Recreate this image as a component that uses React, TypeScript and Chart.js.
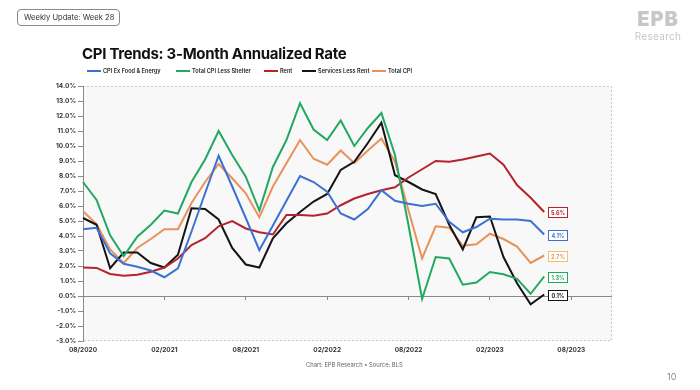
import React, { useEffect, useRef } from 'react';
import { Chart, registerables } from 'chart.js';

Chart.register(...registerables);

const monthLabels = [
  '08/2020', '09/2020', '10/2020', '11/2020', '12/2020', '01/2021', '02/2021', '03/2021',
  '04/2021', '05/2021', '06/2021', '07/2021', '08/2021', '09/2021', '10/2021', '11/2021',
  '12/2021', '01/2022', '02/2022', '03/2022', '04/2022', '05/2022', '06/2022', '07/2022',
  '08/2022', '09/2022', '10/2022', '11/2022', '12/2022', '01/2023', '02/2023', '03/2023',
  '04/2023', '05/2023', '06/2023', '07/2023', '08/2023', '09/2023', '10/2023', '11/2023',
];

const coreCpi = [4.45, 4.55, 2.85, 2.15, 1.95, 1.7, 1.25, 1.85, 4.3, 6.85, 9.35, 7.3, 5.2, 3.05, 4.7, 6.35, 8.0, 7.6, 6.95, 5.5, 5.1, 5.8, 7.05, 6.35, 6.15, 6.0, 6.15, 4.95, 4.25, 4.6, 5.15, 5.1, 5.1, 5.0, 4.1];
const cpiLessShelter = [7.6, 6.4, 4.05, 2.65, 3.95, 4.75, 5.7, 5.5, 7.6, 9.1, 11.0, 9.4, 7.95, 5.7, 8.6, 10.4, 12.85, 11.1, 10.4, 11.7, 10.0, 11.2, 12.2, 9.4, 4.7, -0.2, 2.6, 2.5, 0.75, 0.9, 1.6, 1.45, 1.15, 0.15, 1.3];
const rent = [1.9, 1.87, 1.47, 1.35, 1.42, 1.62, 1.9, 2.5, 3.4, 3.85, 4.65, 5.0, 4.5, 4.25, 4.1, 5.4, 5.4, 5.35, 5.5, 6.05, 6.5, 6.8, 7.05, 7.25, 7.9, 8.45, 9.0, 8.95, 9.1, 9.3, 9.5, 8.75, 7.4, 6.55, 5.6];
const servicesLessRent = [5.2, 4.75, 1.85, 2.9, 2.9, 2.2, 1.9, 2.75, 5.85, 5.8, 5.1, 3.2, 2.1, 1.9, 3.85, 4.85, 5.6, 6.3, 6.8, 8.4, 8.95, 10.2, 11.55, 8.05, 7.6, 7.1, 6.8, 4.75, 3.1, 5.25, 5.3, 2.6, 0.85, -0.55, 0.1];
const totalCpi = [5.65, 4.8, 3.1, 2.2, 3.2, 3.8, 4.45, 4.45, 6.2, 7.6, 8.8, 7.85, 6.85, 5.25, 7.3, 8.85, 10.4, 9.15, 8.75, 9.7, 8.85, 9.7, 10.5, 8.95, 5.7, 2.5, 4.65, 4.55, 3.35, 3.45, 4.15, 3.8, 3.3, 2.2, 2.7];

const seriesNames = ['CPI Ex Food & Energy', 'Total CPI Less Shelter', 'Rent', 'Services Less Rent', 'Total CPI'];
const seriesColors = ['#3b72d2', '#23a862', '#b3242e', '#141414', '#e8925a'];
const labelBorderColors = ['#3b72d2', '#23a862', '#b3242e', '#141414', '#f0c26a'];
const seriesData = [coreCpi, cpiLessShelter, rent, servicesLessRent, totalCpi];

const FONT = 'Inter, "Open Sans", sans-serif';

const plotBackground = {
  id: 'plotBackground',
  beforeDraw(chart: any) {
    const { ctx, chartArea: a } = chart;
    ctx.save();
    ctx.fillStyle = '#f8f8f8';
    ctx.fillRect(a.left, a.top, a.right - a.left, a.bottom - a.top);
    ctx.strokeStyle = '#c9c9c9';
    ctx.lineWidth = 1;
    ctx.setLineDash([2, 2]);
    ctx.beginPath();
    ctx.moveTo(a.left, a.top + 0.5);
    ctx.lineTo(a.right - 0.5, a.top + 0.5);
    ctx.lineTo(a.right - 0.5, a.bottom - 0.5);
    ctx.lineTo(a.left, a.bottom - 0.5);
    ctx.stroke();
    ctx.restore();
  },
};

const endLabels = {
  id: 'endLabels',
  afterDatasetsDraw(chart: any) {
    const { ctx } = chart;
    ctx.save();
    chart.data.datasets.forEach((ds: any, i: number) => {
      const meta = chart.getDatasetMeta(i);
      const n = ds.data.length;
      const pt = meta.data[n - 1];
      if (!pt) return;
      const text = `${Number(ds.data[n - 1]).toFixed(1)}%`;
      const w = 19;
      const h = 10;
      const x = Math.round(pt.x + 4) + 0.5;
      const y = Math.round(pt.y - h / 2) + 0.5;
      ctx.fillStyle = '#ffffff';
      ctx.fillRect(x, y, w, h);
      ctx.strokeStyle = labelBorderColors[i];
      ctx.lineWidth = 1;
      ctx.strokeRect(x, y, w, h);
      ctx.fillStyle = seriesColors[i];
      ctx.font = `bold 5.5px ${FONT}`;
      ctx.textAlign = 'center';
      ctx.textBaseline = 'middle';
      ctx.fillText(text, x + w / 2, y + h / 2 + 0.5);
    });
    ctx.restore();
  },
};

export default function App() {
  const canvasRef = useRef<HTMLCanvasElement | null>(null);

  useEffect(() => {
    if (!canvasRef.current) return;
    const chart = new Chart(canvasRef.current, {
      type: 'line',
      data: {
        labels: monthLabels,
        datasets: seriesData.map((d, i) => ({
          label: seriesNames[i],
          data: d,
          borderColor: seriesColors[i],
          backgroundColor: seriesColors[i],
          borderWidth: 2,
          pointRadius: 0,
          tension: 0,
          fill: false,
          xAxisID: 'x',
          yAxisID: 'y',
        })),
      },
      options: {
        responsive: false,
        animation: false,
        devicePixelRatio: 1,
        layout: { padding: { left: 40, top: 86, right: 88, bottom: 24 } },
        plugins: {
          legend: { display: false },
          title: { display: false },
          tooltip: { enabled: false },
        },
        scales: {
          x: {
            type: 'category',
            position: 'bottom',
            offset: false,
            grid: { display: false, drawTicks: false },
            border: { display: false },
            ticks: {
              autoSkip: false,
              maxRotation: 0,
              padding: 5,
              color: '#333',
              font: { family: FONT, size: 6.5, weight: 'bold' },
              callback: (_v: any, i: number) => (i % 6 === 0 && i < 37 ? monthLabels[i] : null),
            },
            afterFit: (s: any) => { s.height = 25; },
          },
          xz: {
            type: 'category',
            position: { y: 0 },
            offset: false,
            grid: {
              display: true,
              drawOnChartArea: false,
              drawTicks: true,
              tickLength: 4,
              color: (c: any) => (c.index % 6 === 0 && c.index > 0 && c.index < 37 ? '#8a8a8a' : 'rgba(0,0,0,0)'),
            },
            border: { display: false },
            ticks: { display: false },
          },
          y: {
            min: -3,
            max: 14,
            position: 'left',
            grid: {
              display: true,
              drawOnChartArea: true,
              drawTicks: true,
              tickLength: 5,
              color: (c: any) => (c.tick && c.tick.value === 0 ? '#8a8a8a' : 'rgba(0,0,0,0)'),
              tickColor: '#8a8a8a',
            },
            border: { display: true, color: '#8a8a8a', width: 1 },
            ticks: {
              stepSize: 1,
              padding: 2,
              color: '#333',
              font: { family: FONT, size: 6.5, weight: 'bold' },
              callback: (v: any) => `${Number(v).toFixed(1)}%`,
            },
            afterFit: (s: any) => { s.width = 43; },
          },
        },
      } as any,
      plugins: [plotBackground, endLabels],
    });
    return () => chart.destroy();
  }, []);

  const legendPos = [87, 176, 264, 302, 372];

  return (
    <div style={{ position: 'fixed', left: 0, top: 0, width: 700, height: 390, background: '#fff', overflow: 'hidden', fontFamily: FONT }}>
      <canvas ref={canvasRef} width={700} height={390} style={{ position: 'absolute', left: 0, top: 0, width: 700, height: 390 }} />
      <div style={{ position: 'absolute', left: 17, top: 9, width: 95, height: 15, border: '1px solid #8a8a8a', borderRadius: 4, fontSize: 7.6, color: '#333', lineHeight: '15px', paddingLeft: 6, boxSizing: 'content-box', whiteSpace: 'nowrap' }}>
        Weekly Update: Week 28
      </div>
      <div style={{ position: 'absolute', left: 632, top: 8, width: 52, textAlign: 'center', color: '#c8c8c8' }}>
        <div style={{ fontSize: 20, fontWeight: 900, lineHeight: '22px', letterSpacing: 1 }}>EPB</div>
        <div style={{ fontSize: 10, lineHeight: '12px', letterSpacing: 0.3 }}>Research</div>
      </div>
      <div style={{ position: 'absolute', left: 82, top: 44, fontSize: 15, fontWeight: 700, letterSpacing: -0.3, color: '#111', whiteSpace: 'nowrap', lineHeight: '20px' }}>
        CPI Trends: 3-Month Annualized Rate
      </div>
      {seriesNames.map((name, i) => (
        <div key={name} style={{ position: 'absolute', left: legendPos[i], top: 67, height: 8, display: 'flex', alignItems: 'center', whiteSpace: 'nowrap' }}>
          <span style={{ display: 'inline-block', width: 14, height: 2, background: seriesColors[i], marginRight: 2 }} />
          <span style={{ fontSize: 5.6, fontWeight: 600, color: '#222', lineHeight: '8px' }}>{name}</span>
        </div>
      ))}
      <span style={{ position: 'absolute', left: 306, top: 361, fontSize: 5.8, color: '#666', whiteSpace: 'nowrap' }}>Chart: EPB Research  •  Source: BLS</span>
      <div style={{ position: 'absolute', left: 667, top: 371, fontSize: 9, color: '#888' }}>10</div>
    </div>
  );
}
